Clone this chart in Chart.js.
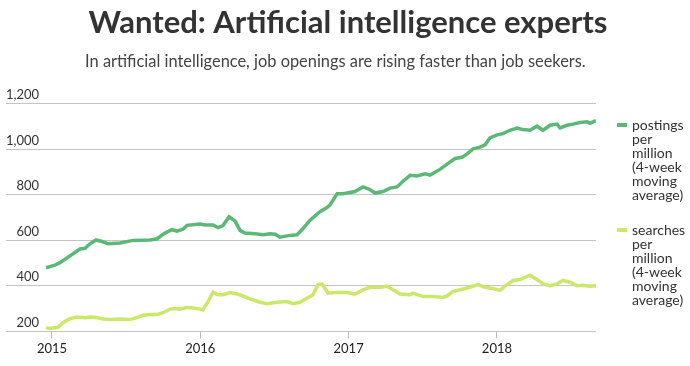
<!DOCTYPE html>
<html>
<head>
<meta charset="utf-8">
<script src="https://cdn.jsdelivr.net/npm/chart.js@4"></script>
<style>
  html, body { margin: 0; padding: 0; background: #fff; }
  #wrap { width: 690px; height: 366px; }
</style>
</head>
<body>
<div id="wrap"><canvas id="myChart"></canvas></div>
<script>
// data, x in decimal years
var postYears = [2014.960,2015.020,2015.054,2015.121,2015.189,2015.223,2015.256,2015.297,2015.344,2015.378,2015.459,2015.546,2015.661,2015.708,2015.762,2015.809,2015.843,2015.883,2015.910,2015.998,2016.032,2016.086,2016.119,2016.153,2016.194,2016.234,2016.268,2016.301,2016.369,2016.423,2016.470,2016.504,2016.537,2016.605,2016.652,2016.693,2016.740,2016.807,2016.854,2016.875,2016.922,2016.962,2016.989,2017.043,2017.097,2017.144,2017.178,2017.232,2017.279,2017.326,2017.367,2017.414,2017.461,2017.515,2017.549,2017.616,2017.664,2017.718,2017.765,2017.799,2017.839,2017.886,2017.920,2017.953,2018.001,2018.041,2018.088,2018.136,2018.176,2018.223,2018.270,2018.311,2018.358,2018.405,2018.426,2018.473,2018.513,2018.560,2018.608,2018.628,2018.668];
var postValues = [480,491,502,532,562,565,585,602,594,585,589,600,602,607,632,647,641,649,666,672,668,668,656,665,704,685,644,632,629,625,629,627,614,622,625,652,689,726,744,756,805,805,808,815,835,823,808,815,830,835,860,886,883,893,887,912,935,960,965,980,1002,1010,1020,1050,1064,1069,1084,1094,1087,1084,1102,1084,1106,1111,1094,1106,1111,1118,1121,1115,1126];

var searchYears = [2014.960,2014.987,2015.040,2015.074,2015.121,2015.169,2015.223,2015.256,2015.303,2015.344,2015.391,2015.459,2015.526,2015.573,2015.614,2015.661,2015.708,2015.748,2015.796,2015.829,2015.863,2015.910,2015.951,2015.998,2016.018,2016.052,2016.086,2016.119,2016.153,2016.200,2016.268,2016.335,2016.403,2016.450,2016.517,2016.585,2016.625,2016.672,2016.719,2016.760,2016.794,2016.821,2016.861,2016.922,2016.989,2017.043,2017.097,2017.144,2017.212,2017.259,2017.299,2017.347,2017.414,2017.434,2017.502,2017.569,2017.637,2017.664,2017.704,2017.751,2017.799,2017.873,2017.920,2017.974,2018.021,2018.068,2018.109,2018.156,2018.223,2018.270,2018.311,2018.358,2018.405,2018.446,2018.493,2018.540,2018.581,2018.628,2018.668];
var searchValues = [216,213,218,238,256,263,260,263,261,254,252,254,252,261,271,274,274,282,298,301,298,305,303,298,294,331,373,361,361,371,361,343,328,322,328,331,322,328,346,361,406,409,368,371,371,364,383,394,394,398,383,364,361,368,353,353,349,356,376,383,391,406,394,388,380,406,424,428,447,428,409,401,409,424,416,401,403,398,401];

var seriesNames = [
  ['postings', 'per', 'million', '(4-week', 'moving', 'average)'],
  ['searches', 'per', 'million', '(4-week', 'moving', 'average)']
];
var yearTicks = [2015, 2016, 2017, 2018];

var postColor = '#5cb877';
var searchColor = '#cbe86b';
var fontName = 'Lato, "Source Sans Pro", sans-serif';

function toPoints(xs, ys) {
  return xs.map(function (x, i) { return { x: x, y: ys[i] }; });
}

// labels to the right of the plot
const sideLabels = {
  id: 'sideLabels',
  afterDraw: function (chart) {
    var ctx = chart.ctx;
    var area = chart.chartArea;
    var tops = [125, 230];
    var colors = [postColor, searchColor];
    ctx.save();
    ctx.font = '14px ' + fontName;
    ctx.fillStyle = '#333';
    ctx.textBaseline = 'middle';
    ctx.textAlign = 'left';
    seriesNames.forEach(function (lines, k) {
      ctx.strokeStyle = colors[k];
      ctx.lineWidth = 4;
      ctx.beginPath();
      ctx.moveTo(area.right + 21, tops[k]);
      ctx.lineTo(area.right + 31, tops[k]);
      ctx.stroke();
      lines.forEach(function (t, j) {
        ctx.fillText(t, area.right + 36, tops[k] + j * 14);
      });
    });
    ctx.restore();
  }
};

const data = {
  datasets: [{
    label: 'postings per million (4-week moving average)',
    data: toPoints(postYears, postValues),
    borderColor: postColor,
    backgroundColor: postColor,
    borderWidth: 3.5,
    pointRadius: 0,
    tension: 0
  }, {
    label: 'searches per million (4-week moving average)',
    data: toPoints(searchYears, searchValues),
    borderColor: searchColor,
    backgroundColor: searchColor,
    borderWidth: 3.5,
    pointRadius: 0,
    tension: 0
  }]
};

//CONFIG
const config = {
  type: 'line',
  data: data,
  plugins: [sideLabels],
  options: {
    responsive: true,
    maintainAspectRatio: false,
    animation: false,
    layout: { padding: { left: 6, right: 0, top: 0, bottom: 6 } },
    plugins: {
      legend: { display: false },
      tooltip: { enabled: false },
      title: {
        display: true,
        text: 'Wanted: Artificial intelligence experts',
        color: '#333',
        font: { family: fontName, size: 31, weight: 'bold' },
        padding: { top: 4, bottom: 11 }
      },
      subtitle: {
        display: true,
        // trailing spaces nudge the centred line a little to the left
        text: 'In artificial intelligence, job openings are rising faster than job seekers.      ',
        color: '#444',
        font: { family: fontName, size: 16.4 },
        padding: { top: 0, bottom: 32 }
      }
    },
    scales: {
      x: {
        type: 'linear',
        min: 2014.69,
        max: 2018.668,
        border: { display: false },
        grid: { drawOnChartArea: false, drawTicks: true, tickLength: 7, color: '#bbb' },
        afterBuildTicks: function (axis) {
          axis.ticks = yearTicks.map(function (v) { return { value: v }; });
        },
        ticks: {
          color: '#222',
          font: { family: fontName, size: 13 },
          padding: 3,
          maxRotation: 0,
          callback: function (v) { return String(v); }
        }
      },
      y: {
        min: 200,
        max: 1200,
        border: { display: false },
        grid: { color: '#c4c4c4', drawTicks: false },
        ticks: {
          stepSize: 200,
          mirror: true,
          crossAlign: 'far',
          padding: 0,
          labelOffset: -9,
          color: '#333',
          font: { family: fontName, size: 13 }
        }
      },
      // empty right axis that keeps room for the series labels
      side: {
        position: 'right',
        display: true,
        border: { display: false },
        grid: { display: false },
        ticks: { display: false },
        afterFit: function (scale) { scale.width = 94; }
      }
    }
  }
};

//Render
const myChart = new Chart(document.getElementById('myChart'), config);
</script>
</body>
</html>
